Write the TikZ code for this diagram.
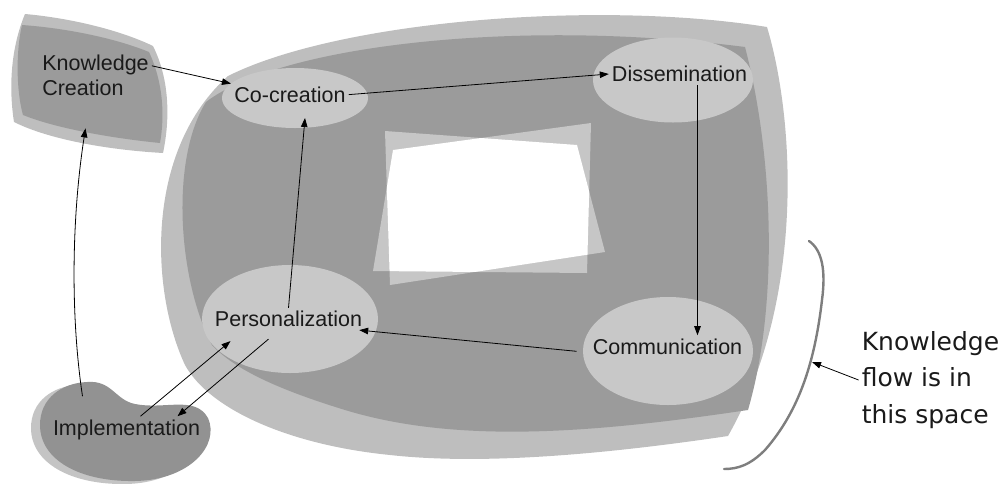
\documentclass[tikz,border=0pt]{standalone}
\usepackage{fontspec}
\setmainfont{Liberation Sans}
\newfontfamily\kffont{DejaVu Sans}
\usetikzlibrary{arrows.meta,shapes.geometric}
\definecolor{blobLight}{HTML}{BEBEBE}
\definecolor{blobDark}{HTML}{9B9B9B}
\definecolor{ellFill}{HTML}{C8C8C8}
\definecolor{quadFill}{HTML}{C6C6C6}
\definecolor{implDark}{HTML}{929292}
\definecolor{implLight}{HTML}{C4C4C4}
\definecolor{bracketGray}{HTML}{7E7E7E}
\definecolor{txt}{HTML}{1A1A1A}
\begin{document}
\begin{tikzpicture}[x=1pt,y=-1pt,
  ellbox/.style={ellipse,fill=ellFill,draw=none,inner sep=0pt,outer sep=0pt},
  lbl/.style={font=\fontsize{21.5}{25}\selectfont,text=txt,inner sep=3pt},
  kflbl/.style={font=\kffont\fontsize{25}{36.5}\selectfont,text=txt,inner sep=3pt,align=left},
  arr/.style={draw=black,line width=0.8pt,-{Triangle[length=9pt,width=6.5pt]}},
  bracketline/.style={draw=bracketGray,line width=2.4pt,line cap=round}]
\useasboundingbox (0,0) rectangle (1007,483);
% big blob
\fill[blobLight] (228,76) .. controls (340,20) and (600,0) .. (767,27)
  .. controls (795,120) and (805,300) .. (728,436)
  .. controls (600,455) and (480,465) .. (390,455)
  .. controls (290,445) and (210,410) .. (185,365)
  .. controls (150,290) and (145,150) .. (228,76) -- cycle;
\fill[blobDark] (206,102) .. controls (280,45) and (520,18) .. (745,47)
  .. controls (772,150) and (780,300) .. (748,410)
  .. controls (600,432) and (460,445) .. (345,410)
  .. controls (280,390) and (235,370) .. (212,345)
  .. controls (178,280) and (170,160) .. (206,102) -- cycle;
% centre window
\fill[quadFill] (385,131) -- (577,145) -- (605,252) -- (390,285) -- cycle;
\fill[quadFill] (393,150) -- (591,123) -- (587,273) -- (373,271) -- cycle;
\begin{scope}
  \clip (385,131) -- (577,145) -- (605,252) -- (390,285) -- cycle;
  \fill[white] (393,150) -- (591,123) -- (587,273) -- (373,271) -- cycle;
\end{scope}
% knowledge creation shape
\fill[blobLight] (25,14) .. controls (70,18) and (120,30) .. (153,46)
  .. controls (170,80) and (170,120) .. (163,153)
  .. controls (110,150) and (50,140) .. (14,122)
  .. controls (9,90) and (10,50) .. (25,14) -- cycle;
\fill[blobDark] (22,25) .. controls (65,28) and (115,38) .. (149,52)
  .. controls (163,82) and (165,115) .. (160,143)
  .. controls (110,138) and (55,128) .. (23,115)
  .. controls (16,90) and (16,50) .. (22,25) -- cycle;
% implementation shape
\begin{scope}[shift={(-9,3)}]
\fill[implLight] (87,382) .. controls (112,380) and (115,400) .. (135,404)
  .. controls (165,410) and (195,395) .. (208,418)
  .. controls (220,445) and (190,480) .. (135,481)
  .. controls (80,482) and (40,460) .. (40,425)
  .. controls (40,398) and (62,383) .. (87,382) -- cycle;
\end{scope}
\fill[implDark] (87,382) .. controls (112,380) and (115,400) .. (135,404)
  .. controls (165,410) and (195,395) .. (208,418)
  .. controls (220,445) and (190,480) .. (135,481)
  .. controls (80,482) and (40,460) .. (40,425)
  .. controls (40,398) and (62,383) .. (87,382) -- cycle;
% ellipses
\node[ellbox,minimum width=146pt,minimum height=60pt] (cocE) at (295,98) {};
\node[ellbox,minimum width=160pt,minimum height=85pt] (disE) at (673,80) {};
\node[ellbox,minimum width=176pt,minimum height=108pt] (persE) at (290,319) {};
\node[ellbox,minimum width=170pt,minimum height=108pt] (comE) at (668,351) {};
% labels
\node[lbl,anchor=base] (coc) at (290,102.3) {Co-creation};
\node[lbl,anchor=base] (dis) at (679.5,81.7) {Dissemination};
\node[lbl,anchor=base] (pers) at (288.5,326.7) {Personalization};
\node[lbl,anchor=base] (com) at (667.5,354) {Communication};
\node[lbl,anchor=base] (imp) at (126.5,435) {Implementation};
\node[lbl,align=left] (kc) at (95.5,75.8) {Knowledge\\Creation};
\node[kflbl] (kf) at (930.5,380) {Knowledge\\flow is in\\this space};
% bracket
\draw[bracketline] (809,241) .. controls (822,250) and (826,270) .. (822,300)
  .. controls (815,360) and (800,410) .. (765,450)
  .. controls (750,465) and (738,469) .. (724,469);
\coordinate (bk) at (812,362);
% connectors
\draw[arr] ([yshift=10pt]kc.east) -- (cocE);
\draw[arr] (coc.east) -- (dis.west);
\draw[arr] ([xshift=18pt]dis.south) -- ([xshift=30pt]com.north);
\draw[arr] ([xshift=-13pt,yshift=-5pt]com.west) -- ([xshift=-6pt]pers.south east);
\draw[arr] (pers.north) -- ([xshift=10pt,yshift=10pt]cocE.south);
\draw[arr] ([xshift=14pt]imp.north) -- ([xshift=-58pt,yshift=-11pt]pers.south);
\draw[arr] ([xshift=-20pt,yshift=-9pt]pers.south) -- ([xshift=51pt]imp.north);
\draw[arr] ([xshift=-44pt,yshift=20pt]imp.north) .. controls +(-12,-80) and +(-14,90) .. ([xshift=-10pt,yshift=-29pt]kc.south);
\draw[arr] (kf.west) -- (bk);
\end{tikzpicture}
\end{document}
